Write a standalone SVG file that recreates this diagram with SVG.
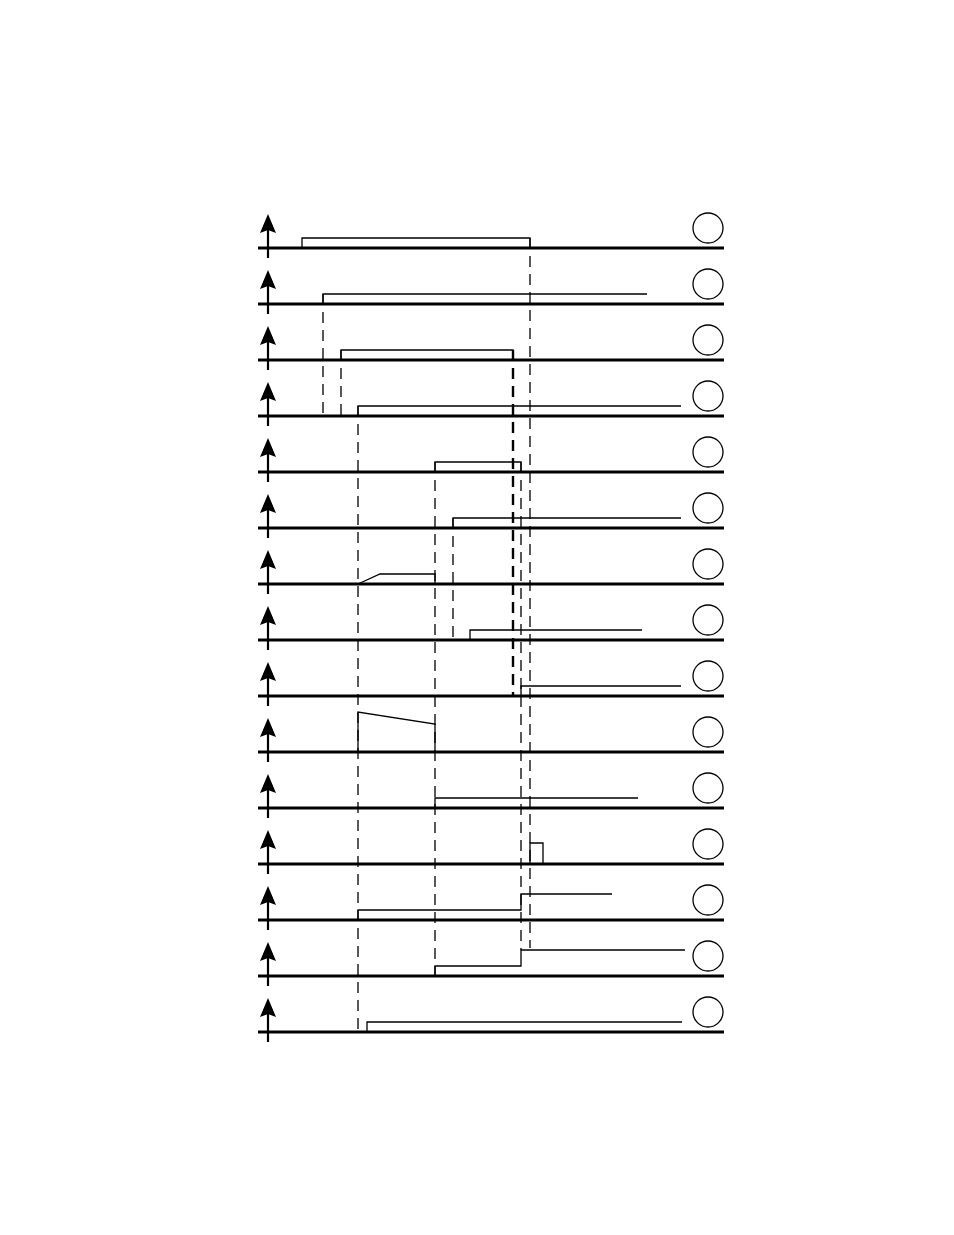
<svg xmlns="http://www.w3.org/2000/svg" width="954" height="1235" viewBox="0 0 954 1235">
<style>
.base{stroke:#000;stroke-width:3.2;fill:none}
.ax{stroke:#000;stroke-width:2.2;fill:none}
.sig{stroke:#000;stroke-width:1.3;fill:none}
.dash{stroke:#000;stroke-width:1.3;stroke-dasharray:11,7;fill:none}
.dashb{stroke:#000;stroke-width:2.4;stroke-dasharray:11,7;fill:none}
.c{stroke:#000;stroke-width:1.3;fill:#fff}
</style>
<defs>
<g id="axis">
<line class="base" x1="258" y1="0" x2="724" y2="0"/>
<line class="ax" x1="268" y1="10" x2="268" y2="-20"/>
<polygon points="268,-34 260,-15 268,-18 276,-15" fill="#000"/>
<circle class="c" cx="708" cy="-20" r="15"/>
</g>
</defs>
<rect width="954" height="1235" fill="#fff"/>
<g id="axes">
<use href="#axis" y="248"/>
<use href="#axis" y="304"/>
<use href="#axis" y="360"/>
<use href="#axis" y="416"/>
<use href="#axis" y="472"/>
<use href="#axis" y="528"/>
<use href="#axis" y="584"/>
<use href="#axis" y="640"/>
<use href="#axis" y="696"/>
<use href="#axis" y="752"/>
<use href="#axis" y="808"/>
<use href="#axis" y="864"/>
<use href="#axis" y="920"/>
<use href="#axis" y="976"/>
<use href="#axis" y="1032"/>
</g>
<g id="signals">
<polyline class="sig" points="302,248 302,238 530,238 530,248"/>
<polyline class="sig" points="323,304 323,294 647,294"/>
<polyline class="sig" points="341,360 341,350 513,350 513,360"/>
<polyline class="sig" points="358,416 358,406 681,406"/>
<polyline class="sig" points="435,472 435,462 521,462 521,472"/>
<polyline class="sig" points="453,528 453,518 681,518"/>
<polyline class="sig" points="358,584 380,574 435,574 435,584"/>
<polyline class="sig" points="470,640 470,630 642,630"/>
<polyline class="sig" points="521,696 521,686 681,686"/>
<polyline class="sig" points="358,752 358,712 435,724 435,752"/>
<polyline class="sig" points="435,808 435,798 638,798"/>
<polyline class="sig" points="530,864 530,843 543,843 543,864"/>
<polyline class="sig" points="358,920 358,910 521,910 521,894 612,894"/>
<polyline class="sig" points="435,976 435,966 521,966 521,950 685,950"/>
<polyline class="sig" points="367,1032 367,1022 682,1022"/>
</g>
<g id="connectors">
<line class="dash" x1="323" y1="294" x2="323" y2="416"/>
<line class="dash" x1="341" y1="350" x2="341" y2="416"/>
<line class="dash" x1="358" y1="406" x2="358" y2="1032"/>
<line class="dash" x1="435" y1="462" x2="435" y2="976"/>
<line class="dash" x1="453" y1="518" x2="453" y2="640"/>
<line class="dashb" x1="513" y1="350" x2="513" y2="696"/>
<line class="dash" x1="521" y1="462" x2="521" y2="950"/>
<line class="dash" x1="530" y1="238" x2="530" y2="948"/>
</g>
</svg>
